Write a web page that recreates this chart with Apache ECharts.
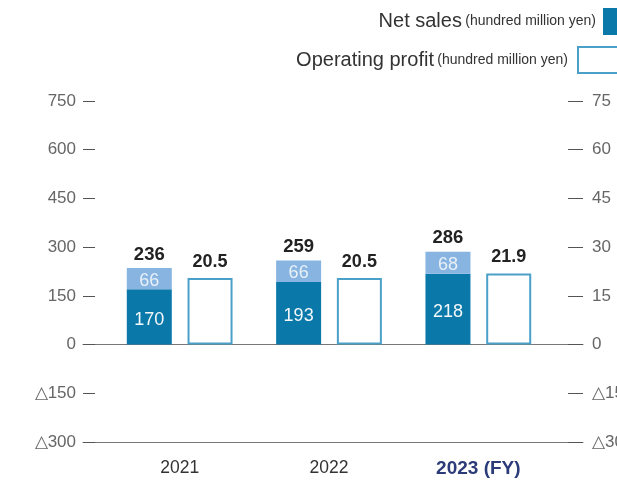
<!DOCTYPE html>
<html>
<head>
<meta charset="utf-8">
<script src="https://cdn.jsdelivr.net/npm/echarts@6/dist/echarts.min.js"></script>
<style>
html,body{margin:0;padding:0;background:#fff;}
#chart{width:617px;height:483px;}
</style>
</head>
<body>
<div id="chart"></div>
<script>
const categories = ['2021', '2022', '2023 (FY)'];
const netSalesBase = [170, 193, 218];
const netSalesExtra = [66, 66, 68];
const netSalesTotal = [236, 259, 286];
const operatingProfit = [20.5, 20.5, 21.9];
const leftTicks = { min: -300, max: 750, interval: 150 };
const rightTicks = { min: -30, max: 75, interval: 15 };

const FONT = '"Liberation Sans", Arial, Helvetica, sans-serif';
const fmt = v => (v < 0 ? '△' + (-v) : String(v));

const chart = echarts.init(document.getElementById('chart'), null, { renderer: 'canvas' });

const option = {
  animation: false,
  backgroundColor: '#fff',
  textStyle: { fontFamily: FONT },
  grid: [
    { left: 83, right: 34, top: 101, bottom: 41, containLabel: false, outerBoundsMode: 'none' },
    { left: 105, right: 64, top: 101, bottom: 41, containLabel: false, outerBoundsMode: 'none' }
  ],
  xAxis: [
    { // bottom frame line
      type: 'category', gridIndex: 0, data: [''], position: 'bottom',
      axisLine: { show: true, onZero: false, lineStyle: { color: '#777', width: 1 } },
      axisTick: { show: false }, axisLabel: { show: false }, splitLine: { show: false }
    },
    { // zero line
      type: 'category', gridIndex: 0, data: [''], position: 'bottom',
      axisLine: { show: true, onZero: true, onZeroAxisIndex: 0, lineStyle: { color: '#777', width: 1 } },
      axisTick: { show: false }, axisLabel: { show: false }, splitLine: { show: false }
    },
    { // bar categories
      type: 'category', gridIndex: 1, data: categories, position: 'bottom',
      axisLine: { show: false, onZero: false }, axisTick: { show: false },
      axisLabel: {
        margin: 17, fontSize: 17.5, color: '#333', fontFamily: FONT,
        formatter: (v) => v.indexOf('FY') >= 0 ? '{b|' + v + '}' : v,
        rich: { b: { fontSize: 19, fontWeight: 'bold', color: '#2b3a78', fontFamily: FONT } }
      }
    }
  ],
  yAxis: [
    {
      type: 'value', gridIndex: 0, position: 'left',
      min: leftTicks.min, max: leftTicks.max, interval: leftTicks.interval,
      axisLine: { show: false },
      axisTick: { show: true, inside: true, length: 12, lineStyle: { color: '#555', width: 1 } },
      axisLabel: { margin: 7, fontSize: 17, color: '#666', fontFamily: FONT, formatter: fmt },
      splitLine: { show: false }
    },
    {
      type: 'value', gridIndex: 0, position: 'right',
      min: rightTicks.min, max: rightTicks.max, interval: rightTicks.interval,
      axisLine: { show: false },
      axisTick: { show: true, inside: true, length: 15, lineStyle: { color: '#555', width: 1 } },
      axisLabel: { margin: 9, fontSize: 17, color: '#666', fontFamily: FONT, formatter: fmt },
      splitLine: { show: false }
    },
    {
      type: 'value', gridIndex: 1, show: false,
      min: leftTicks.min, max: leftTicks.max, interval: leftTicks.interval
    },
    {
      type: 'value', gridIndex: 1, show: false,
      min: rightTicks.min, max: rightTicks.max, interval: rightTicks.interval
    }
  ],
  series: [
    {
      name: 'Net sales', type: 'bar', xAxisIndex: 2, yAxisIndex: 2, stack: 'ns',
      data: netSalesBase, barWidth: 45, barGap: '35%',
      itemStyle: { color: '#0a79a9' },
      label: { show: true, position: 'inside', offset: [0, 3], fontSize: 18, color: '#f4f8fb', fontFamily: FONT }
    },
    {
      name: 'Net sales extra', type: 'bar', xAxisIndex: 2, yAxisIndex: 2, stack: 'ns',
      data: netSalesExtra, barWidth: 45, barGap: '35%',
      itemStyle: { color: '#87b4e0' },
      label: { show: true, position: 'inside', offset: [0, 2], fontSize: 18, color: '#e8f0f8', fontFamily: FONT }
    },
    {
      name: 'Net sales total', type: 'bar', xAxisIndex: 2, yAxisIndex: 2, stack: 'ns',
      data: netSalesTotal.map(() => 0), barWidth: 45, barGap: '35%',
      itemStyle: { color: 'rgba(0,0,0,0)' },
      label: {
        show: true, position: 'top', distance: 4, fontSize: 18.5, fontWeight: 'bold', color: '#222', fontFamily: FONT,
        formatter: (p) => String(netSalesTotal[p.dataIndex])
      }
    },
    {
      name: 'Operating profit', type: 'bar', xAxisIndex: 2, yAxisIndex: 3,
      data: operatingProfit, barWidth: 45, barGap: '35%',
      itemStyle: { color: '#ffffff', borderColor: '#4aa0c8', borderWidth: 2 },
      label: { show: true, position: 'top', distance: 7, fontSize: 18, fontWeight: 'bold', color: '#222', fontFamily: FONT,
        formatter: (p) => p.value.toFixed(1) }
    }
  ],
  graphic: [
    {
      type: 'text', x: 596, y: 21,
      style: {
        text: '{a|Net sales} {b|(hundred million yen)}',
        align: 'right', verticalAlign: 'middle',
        rich: {
          a: { fontSize: 20, fill: '#333', fontFamily: FONT },
          b: { fontSize: 14, fill: '#333', fontFamily: FONT }
        }
      }
    },
    {
      type: 'rect', shape: { x: 603, y: 8, width: 30, height: 27 },
      style: { fill: '#0a79a9' }
    },
    {
      type: 'text', x: 568, y: 60,
      style: {
        text: '{a|Operating profit} {b|(hundred million yen)}',
        align: 'right', verticalAlign: 'middle',
        rich: {
          a: { fontSize: 20, fill: '#333', fontFamily: FONT },
          b: { fontSize: 14, fill: '#333', fontFamily: FONT }
        }
      }
    },
    {
      type: 'rect', shape: { x: 578, y: 47, width: 60, height: 26 },
      style: { fill: '#fff', stroke: '#4aa0c8', lineWidth: 2 }
    }
  ]
};

chart.setOption(option);
</script>
</body>
</html>
